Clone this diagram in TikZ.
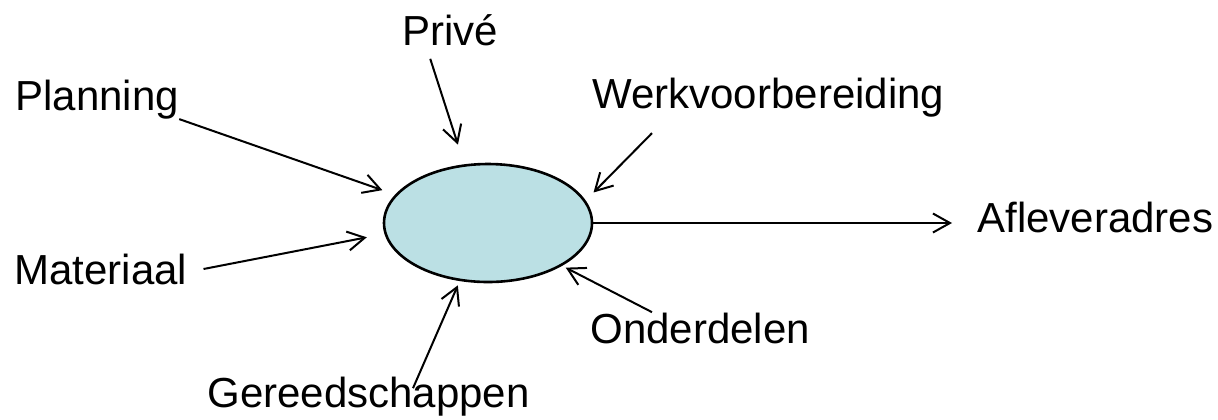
\documentclass[tikz,border=0pt]{standalone}
\usepackage{fontspec}
\setmainfont{Liberation Sans}
\usetikzlibrary{arrows.meta,shapes.geometric}
\definecolor{blob}{RGB}{187,224,228}

\begin{document}
\begin{tikzpicture}[x=0.5pt,y=-0.5pt,
   lbl/.style={inner sep=0pt,anchor=base west,font=\fontsize{21}{25}\selectfont},
   arr/.style={-{Straight Barb[length=8.5pt,width=9.5pt]},line width=1pt}]
   \useasboundingbox (0,0) rectangle (1218,419);
   \node[ellipse,draw,line width=1.3pt,fill=blob,minimum width=104pt,minimum height=59pt,inner sep=0pt] (c) at (488,223) {};
   \node[lbl] (pv) at (402,45) {Privé};
   \node[lbl] (pl) at (15,110) {Planning};
   \node[lbl] (wv) at (592,108) {Werkvoorbereiding};
   \node[lbl] (af) at (977,232) {Afleveradres};
   \node[lbl] (mt) at (14,284) {Materiaal};
   \node[lbl] (od) at (590,343) {Onderdelen};
   \node[lbl] (gs) at (207,407) {Gereedschappen};
    \path[arr]
    (pl.south east) edge[shorten >=6.75pt] (c.163.6)
    ([xshift=-10pt,yshift=-6.5pt]pv.south) edge[shorten >=10.3pt] (c.112.8)
    ([xshift=30pt,yshift=-8pt]wv.south west) edge[shorten >=5.6pt] (c.13.3)
    ([xshift=8pt]mt.east) edge[shorten >=9pt] (c.186)
    ([xshift=31pt]od.north west) edge[shorten >=2pt] (c.-30.8)
    ([xshift=103pt,yshift=-6pt]gs.north west) edge[shorten >=2.3pt] (c.244.1)
    (c.east) edge[shorten >=12.5pt] (c.east -| af.west);
\end{tikzpicture}
\end{document}
